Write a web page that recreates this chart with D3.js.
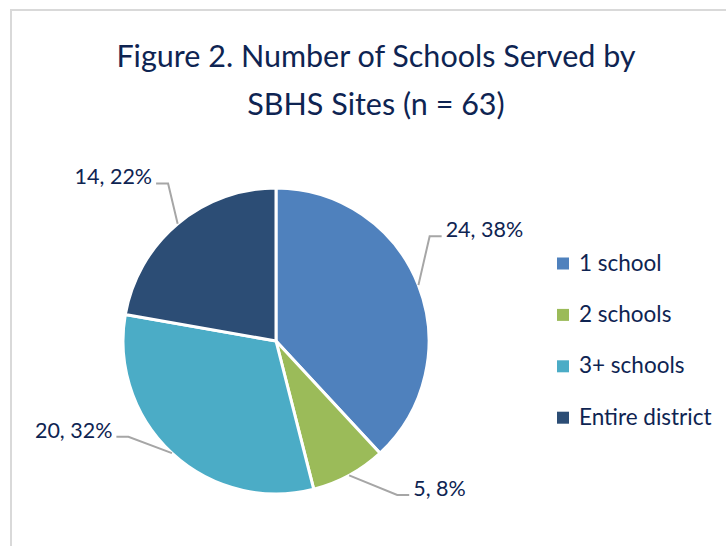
<!DOCTYPE html>
<html>
<head>
<meta charset="utf-8">
<script src="https://cdn.jsdelivr.net/npm/d3@7"></script>
<style>
  body { margin: 0; background: #fff; }
  text { font-family: Lato, "Open Sans", sans-serif; fill: #0e2452; }
</style>
</head>
<body>
<div id="mypie"></div>
<script>
var categories = ["1 school", "2 schools", "3+ schools", "Entire district"];
var counts = [24, 5, 20, 14];
var percents = ["38%", "8%", "32%", "22%"];
var colors = ["#4f81bd", "#9bbb59", "#4bacc6", "#2c4d75"];
var titleLines = ["Figure 2. Number of Schools Served by", "SBHS Sites (n = 63)"];

var W = 726, H = 546;
var cx = 276, cy = 341, radius = 153;

var svg = d3.select("#mypie")
  .append("svg")
  .attr("width", W)
  .attr("height", H);

// chart area border (only top/left visible in the crop)
svg.append("rect")
  .attr("x", 11)
  .attr("y", 10)
  .attr("width", W + 40)
  .attr("height", H + 40)
  .attr("fill", "none")
  .attr("stroke", "#d9d9d9")
  .attr("stroke-width", 2);

svg.selectAll(".title")
  .data(titleLines)
  .enter()
  .append("text")
  .attr("class", "title")
  .attr("x", 376)
  .attr("y", (d, i) => 67 + i * 48)
  .attr("text-anchor", "middle")
  .style("font-size", "30.5px")
  .text(d => d);

var dataset = categories.map((c, i) => ({name: c, value: counts[i], pct: percents[i]}));

var pie = d3.pie()
  .sort(null)
  .value(d => d.value);

var arc = d3.arc()
  .innerRadius(0)
  .outerRadius(radius);

var g = svg.append("g")
  .attr("transform", "translate(" + cx + "," + cy + ")");

var arcs = pie(dataset);

g.selectAll("path")
  .data(arcs)
  .enter()
  .append("path")
  .attr("d", arc)
  .attr("fill", (d, i) => colors[i])
  .attr("stroke", "#fff")
  .attr("stroke-width", 3);

// where each data label's leader line bends (angle in degrees, distance from centre)
var labelElbow = [[55.7, 186], [141.8, 196], [237, 176], [325.6, 191]];
var rad = Math.PI / 180;

arcs.forEach(function(d, i) {
  var mid = (d.startAngle + d.endAngle) / 2;
  var p0 = d3.pointRadial(mid, radius);
  var p1 = d3.pointRadial(labelElbow[i][0] * rad, labelElbow[i][1]);
  var dir = p1[0] > 0 ? 1 : -1;
  var p2 = [p1[0] + dir * 12, p1[1]];

  g.append("polyline")
    .attr("points", [p0, p1, p2].map(p => p.join(",")).join(" "))
    .attr("fill", "none")
    .attr("stroke", "#a6a6a6")
    .attr("stroke-width", 2);

  g.append("text")
    .attr("x", p2[0] + dir * 4)
    .attr("y", p2[1] + 1)
    .attr("text-anchor", dir > 0 ? "start" : "end")
    .style("font-size", "21.5px")
    .text(d.data.value + ", " + d.data.pct);
});

var legend = svg.selectAll(".legend")
  .data(categories)
  .enter()
  .append("g")
  .attr("class", "legend")
  .attr("transform", (d, i) => "translate(557," + (263.5 + i * 51.4) + ")");

legend.append("rect")
  .attr("x", 0)
  .attr("y", -6)
  .attr("width", 12)
  .attr("height", 12)
  .attr("fill", (d, i) => colors[i]);

legend.append("text")
  .attr("x", 22)
  .attr("y", 7)
  .style("font-size", "22.5px")
  .text(d => d);
</script>
</body>
</html>
